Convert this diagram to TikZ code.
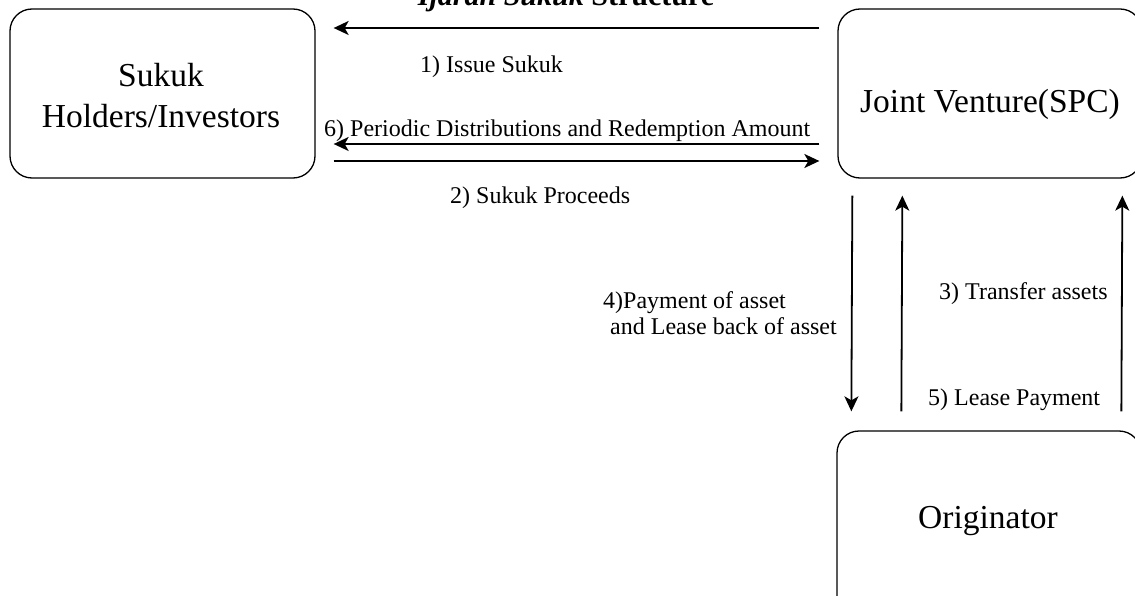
\documentclass[tikz,border=0pt]{standalone}
\usepackage{fontspec}
\setmainfont{Liberation Serif}
\usetikzlibrary{arrows.meta}
\tikzset{
  party/.style={draw, line width=1.3pt, rounded corners=22pt, inner sep=0pt},
  boxtext/.style={font=\fontsize{33.5}{40}\selectfont, inner sep=0pt, anchor=base},
  flow/.style={line width=1.8pt, -{Stealth[length=15pt,width=14pt,inset=4pt]}},
  note/.style={font=\fontsize{24}{28}\selectfont, inner sep=0pt, anchor=base west},
}
\begin{document}
\begin{tikzpicture}[x=1pt,y=1pt]
\useasboundingbox (0,0) rectangle (1135,-596);

% heading, running off the top edge
\node[anchor=base, font=\fontsize{30}{36}\selectfont\bfseries] (title) at (566,-6)
  {\textit{Ijarah Sukuk} Structure};

% parties
\node[party, minimum width=305pt, minimum height=169pt] (inv) at (162.5,-93.5) {};
\node[boxtext] (invtop) at (161,-87) {Sukuk};
\node[boxtext] (invbot) at (161,-128) {Holders/Investors};
\node[party, minimum width=304pt, minimum height=169pt] (spc) at (990,-93.5) {};
\node[boxtext] (spctext) at (990,-113) {Joint Venture(SPC)};
\node[party, minimum width=304pt, minimum height=200pt] (org) at (989,-531) {};
\node[boxtext] (orgtext) at (988,-528) {Originator};

% flows between investors and SPC
\draw[flow] ([xshift=-18pt,yshift=65.5pt]spc.west) -- ([xshift=18pt,yshift=65.5pt]inv.east);
\draw[flow] ([xshift=-18pt,yshift=-50.5pt]spc.west) -- ([xshift=18pt,yshift=-50.5pt]inv.east);
\draw[flow] ([xshift=18pt,yshift=-67.5pt]inv.east) -- ([xshift=-18pt,yshift=-67.5pt]spc.west);

% flows between SPC and originator
\draw[flow] ([xshift=15pt,yshift=-17pt]spc.south west) -- ([xshift=15pt,yshift=19pt]org.north west);
\draw[flow] ([xshift=65pt,yshift=19pt]org.north west) -- ([xshift=65pt,yshift=-17pt]spc.south west);
\draw[flow] ([xshift=285pt,yshift=19pt]org.north west) -- ([xshift=285pt,yshift=-17pt]spc.south west);

% flow labels
\node[note] (l1) at (420,-73) {1) Issue Sukuk};
\node[note] (l6) at (324,-137) {6) Periodic Distributions and Redemption Amount};
\node[note] (l2) at (450,-204) {2) Sukuk Proceeds};
\node[note] (l4a) at (603,-308) {4)Payment of asset};
\node[note] (l4b) at (610,-334) {and Lease back of asset};
\node[note] (l3) at (939,-299) {3) Transfer assets};
\node[note] (l5) at (928,-405) {5) Lease Payment};
\end{tikzpicture}
\end{document}
